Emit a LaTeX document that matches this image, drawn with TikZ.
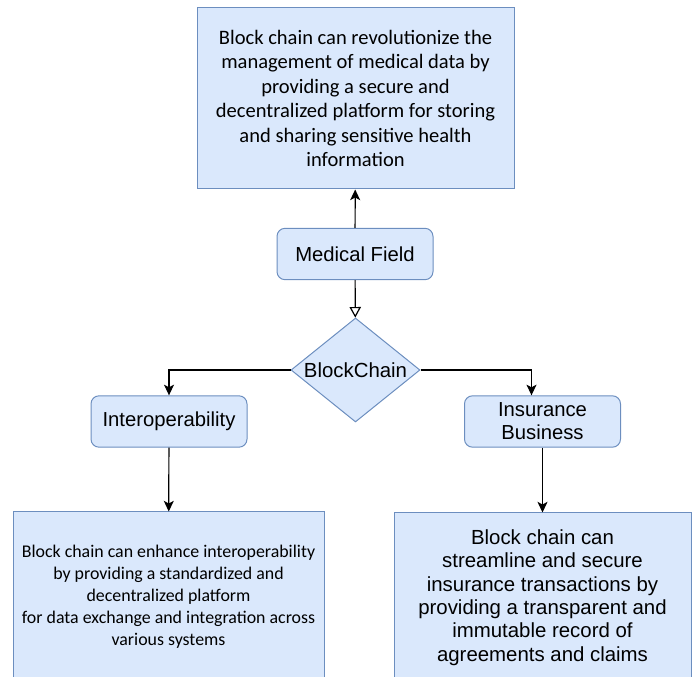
\documentclass[tikz,border=0pt]{standalone}
\usepackage{fontspec}
\setmainfont{Carlito}
\newfontfamily\arialfont{Liberation Sans}
\usetikzlibrary{positioning,shapes.geometric,arrows.meta}

\definecolor{boxfill}{HTML}{DAE8FC}
\definecolor{boxline}{HTML}{6C8EBF}

\tikzset{
	notebox/.style={draw=boxline, fill=boxfill, line width=0.75pt, inner sep=0pt, align=center},
	itembox/.style={draw=boxline, fill=boxfill, line width=0.75pt, rounded corners=6pt, inner sep=0pt, align=center,
		minimum width=117pt, minimum height=38.5pt, font=\arialfont\fontsize{15.2}{17.3}\selectfont},
	choice/.style={diamond, draw=boxline, fill=boxfill, line width=0.75pt, inner sep=0pt,
		minimum width=96.75pt, minimum height=78pt, font=\arialfont\fontsize{15.3}{17.3}\selectfont},
	flow/.style={line width=0.9pt, -{Stealth[length=8pt, width=7.5pt, inset=2pt]}},
	openflow/.style={line width=0.9pt, -{Triangle[open, length=8pt, width=8.5pt]}},
}

\begin{document}
\begin{tikzpicture}[x=0.75pt, y=-0.75pt]
	\useasboundingbox (0, 0) rectangle (697, 677);

	\node[notebox, minimum width=237.75pt, minimum height=135.75pt, font=\fontsize{15.4}{18.4}\selectfont] (medinfo) at (355.5, 98.5)
		{Block chain can revolutionize the\\ management of medical data by\\ providing a secure and\\ decentralized platform for storing\\ and sharing sensitive health\\ information};
	\node[itembox] (medical) at (355, 254) {Medical Field};
	\node[choice] (chain) at (355.5, 370) {\makebox[0pt]{BlockChain}};
	\node[itembox] (interop) at (169, 421.5) {Interoperability};
	\node[itembox] (insur) at (542.5, 421.5) {Insurance\\ Business};
	\node[notebox, minimum width=233.25pt, minimum height=127.5pt, font=\fontsize{13.4}{16.5}\selectfont] (interopinfo) at (168.5, 597)
		{Block chain can enhance interoperability\\ by providing a standardized and\\ decentralized platform\\ for data exchange and integration across\\ various systems};
	\node[notebox, minimum width=222.75pt, minimum height=126.75pt, font=\arialfont\fontsize{15.3}{17.6}\selectfont] (insurinfo) at (542.5, 597.5)
		{Block chain can\\ streamline and secure\\ insurance transactions by\\ providing a transparent and\\ immutable record of\\ agreements and claims};

	\draw[flow] (medical) -- (medinfo);
	\draw[openflow] (medical) -- (chain);
	\draw[flow] (chain.west) -| (interop.north);
	\draw[flow] (chain.east) -| ([xshift=-8.25pt]insur.north);
	\draw[flow] (interop) -- (interopinfo);
	\draw[flow] (insur) -- (insurinfo);

\end{tikzpicture}
\end{document}
